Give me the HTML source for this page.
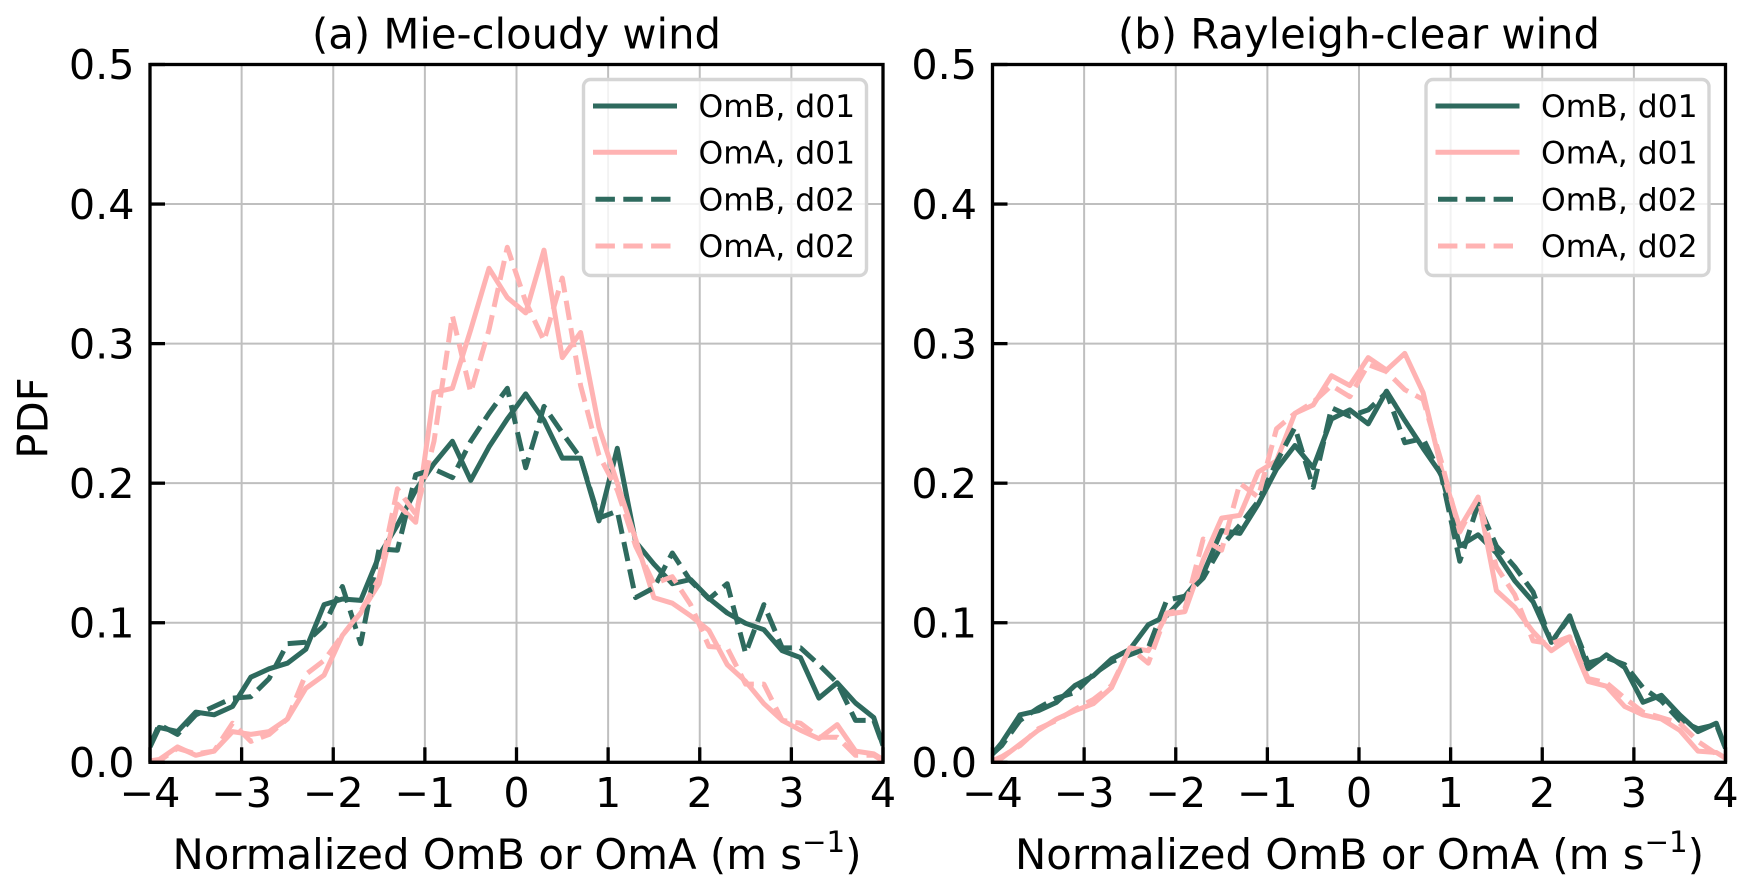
<!DOCTYPE html>
<html lang="en">
<head>
<meta charset="utf-8">
<title>Normalized OmB and OmA PDF</title>
<style>
html,body{margin:0;padding:0;background:#fff;width:1755px;height:893px;overflow:hidden}
svg{display:block}
text{font-family:"DejaVu Sans","Liberation Sans",sans-serif;fill:#000}
</style>
</head>
<body>
<svg id="figure" xmlns="http://www.w3.org/2000/svg" width="1755" height="893" viewBox="0 0 1755 893"></svg>
<script>
// ---- Data ----
const binCenters = [-4,-3.9,-3.7,-3.5,-3.3,-3.1,-2.9,-2.7,-2.5,-2.3,-2.1,-1.9,-1.7,-1.5,-1.3,-1.1,-0.9,-0.7,-0.5,-0.3,-0.1,0.1,0.3,0.5,0.7,0.9,1.1,1.3,1.5,1.7,1.9,2.1,2.3,2.5,2.7,2.9,3.1,3.3,3.5,3.7,3.9,4];
const xTicks = [-4,-3,-2,-1,0,1,2,3,4];
const yTicks = [0,0.1,0.2,0.3,0.4,0.5];
const seriesNames = ["OmB, d01","OmA, d01","OmB, d02","OmA, d02"];

const mieOmBd01 = [.011,.025,.022,.036,.034,.04,.061,.067,.071,.081,.113,.117,.116,.148,.17,.195,.214,.23,.202,.226,.246,.264,.245,.218,.218,.173,.225,.158,.142,.128,.131,.1175,.107,.0996,.095,.08,.075,.046,.057,.0425,.032,.012];
const mieOmAd01 = [.001,.002,.011,.005,.008,.022,.02,.022,.031,.053,.0625,.091,.107,.128,.185,.172,.265,.268,.31,.354,.333,.322,.367,.29,.308,.24,.2,.16,.118,.114,.105,.0946,.07,.058,.042,.03,.023,.017,.027,.008,.006,.002];
const mieOmBd02 = [.012,.027,.02,.034,.04,.046,.047,.06,.085,.086,.098,.126,.085,.153,.152,.206,.21,.204,.23,.25,.268,.211,.255,.236,.218,.175,.18,.118,.125,.15,.13,.117,.128,.078,.113,.082,.082,.07,.057,.03,.03,.012];
const mieOmAd02 = [.001,.001,.01,.006,.008,.028,.015,.02,.031,.063,.073,.091,.108,.132,.196,.178,.23,.32,.265,.31,.369,.33,.302,.347,.27,.22,.195,.155,.128,.133,.113,.083,.082,.056,.056,.03,.028,.018,.018,.005,.005,.001];

const rayOmBd01 = [.006,.014,.034,.037,.043,.055,.062,.074,.081,.0985,.105,.119,.135,.166,.164,.185,.21,.227,.211,.246,.2525,.2425,.266,.245,.225,.206,.155,.163,.15,.13,.115,.086,.105,.067,.077,.068,.043,.048,.034,.022,.028,.01];
const rayOmAd01 = [.001,.003,.013,.023,.031,.037,.042,.0535,.082,.08,.106,.108,.145,.175,.177,.208,.216,.25,.256,.277,.27,.29,.281,.293,.265,.21,.168,.19,.123,.111,.0935,.08,.089,.058,.0545,.04,.034,.031,.023,.008,.007,.003];
const rayOmBd02 = [.006,.012,.03,.039,.046,.05,.063,.072,.077,.082,.116,.119,.132,.155,.17,.187,.215,.24,.197,.254,.248,.2525,.265,.229,.232,.205,.144,.185,.155,.14,.122,.086,.104,.071,.075,.07,.0534,.044,.03,.024,.027,.01];
const rayOmAd02 = [.001,.004,.012,.024,.03,.038,.045,.055,.082,.071,.107,.11,.16,.152,.2,.19,.239,.25,.258,.27,.262,.285,.28,.267,.26,.215,.165,.19,.14,.12,.087,.085,.09,.06,.057,.046,.036,.032,.028,.015,.006,.003];

const panels = [
  {id:"mie", title:"(a) Mie-cloudy wind", left:150, showYTitle:true, series:[mieOmBd01,mieOmAd01,mieOmBd02,mieOmAd02]},
  {id:"rayleigh", title:"(b) Rayleigh-clear wind", left:992.5, showYTitle:false, series:[rayOmBd01,rayOmAd01,rayOmBd02,rayOmAd02]}
];

// ---- Layout and style ----
const PW = 733, TOP = 64.5, BOTTOM = 762.3;
const GREEN = "#2e6a5e", PINK = "#ffb3b3", GRID = "#bfbfbf";
const LW = 5, FS = 41.8, TICK_FS = 41.3;
const colors = [GREEN, PINK, GREEN, PINK];
const dashes = ["none","none","19.4 8.4","19.4 8.4"];
const NS = "http://www.w3.org/2000/svg";
const fig = document.getElementById("figure");

function mk(tag, attrs, parent, txt){
  const el = document.createElementNS(NS, tag);
  for (const k in attrs) el.setAttribute(k, attrs[k]);
  if (txt !== undefined) el.textContent = txt;
  parent.appendChild(el);
  return el;
}
function fmtTick(v){ return v < 0 ? "\u2212" + Math.abs(v) : String(v); }

panels.forEach(function(p, pi){
  const xScale = function(v){ return p.left + (v + 4) / 8 * PW; };
  const yScale = function(v){ return BOTTOM - v / 0.5 * (BOTTOM - TOP); };

  const g = mk("g", {}, fig);
  
  

  const clip = mk("clipPath", {id:"clip-" + p.id}, g);
  mk("rect", {x:p.left, y:TOP, width:PW, height:BOTTOM - TOP}, clip);

  // grid
  xTicks.forEach(function(t){
    const l = mk("line", {x1:xScale(t), x2:xScale(t), y1:TOP, y2:BOTTOM, stroke:GRID, "stroke-width":2}, g);
    
    
  });
  yTicks.forEach(function(t){
    const l = mk("line", {x1:p.left, x2:p.left + PW, y1:yScale(t), y2:yScale(t), stroke:GRID, "stroke-width":2}, g);
    
    
  });

  // series
  p.series.forEach(function(vals, si){
    const pts = vals.map(function(v, i){ return xScale(binCenters[i]).toFixed(1) + "," + yScale(v).toFixed(1); }).join(" ");
    const line = mk("polyline", {points:pts, fill:"none", stroke:colors[si], "stroke-width":LW, "stroke-linejoin":"round", "stroke-dasharray":dashes[si], "clip-path":"url(#clip-" + p.id + ")"}, g);
    
    
  });

  // ticks and tick labels
  xTicks.forEach(function(t){
    const tk = mk("line", {x1:xScale(t), x2:xScale(t), y1:BOTTOM, y2:BOTTOM - 15, stroke:"#000", "stroke-width":3.3}, g);
    
    
    const lb = mk("text", {x:xScale(t), y:807, "font-size":TICK_FS, "text-anchor":"middle"}, g, fmtTick(t));
    
    
  });
  yTicks.forEach(function(t){
    const tk = mk("line", {x1:p.left, x2:p.left + 15, y1:yScale(t), y2:yScale(t), stroke:"#000", "stroke-width":3.3}, g);
    
    
    const lb = mk("text", {x:p.left - 15.4, y:yScale(t) + 14.7, "font-size":TICK_FS, "text-anchor":"end"}, g, t.toFixed(1));
    
    
  });

  // spines
  const frame = mk("rect", {x:p.left, y:TOP, width:PW, height:BOTTOM - TOP, fill:"none", stroke:"#000", "stroke-width":3.3}, g);
  
  

  // title
  const title = mk("text", {x:p.left + PW / 2, y:48.5, "font-size":41.7, "text-anchor":"middle"}, g, p.title);
  
  

  // x axis title
  const xt = mk("text", {x:p.left + PW / 2 + 0.5, y:869, "font-size":FS, "text-anchor":"middle"}, g);
  
  
  mk("tspan", {}, xt, "Normalized OmB or OmA (m s");
  mk("tspan", {dy:-17, "font-size":29.3}, xt, "\u22121");
  mk("tspan", {dy:17}, xt, ")");

  // y axis title
  if (p.showYTitle){
    const yt = mk("text", {transform:"translate(47.5,418) rotate(-90)", "font-size":FS, "text-anchor":"middle"}, g, "PDF");
    
    
  }

  // legend
  const lg = mk("g", {}, g);
  
  
  const lx = p.left + 433.5;
  const box = mk("rect", {x:lx, y:79.5, width:283, height:196, rx:7, ry:7, fill:"#fff", "fill-opacity":0.8, stroke:"#d5d5d5", "stroke-width":3.4}, lg);
  
  
  const rowY = [106, 152.3, 199.3, 246];
  seriesNames.forEach(function(name, si){
    const h = mk("line", {x1:lx + 12, x2:lx + 91, y1:rowY[si], y2:rowY[si], stroke:colors[si], "stroke-width":LW, "stroke-dasharray":dashes[si], "stroke-linecap":dashes[si] === "none" ? "square" : "butt"}, lg);
    
    
    const tx = mk("text", {x:lx + 115, y:rowY[si] + 11, "font-size":31.4}, lg, name);
    
    
  });
});
</script>
</body>
</html>
